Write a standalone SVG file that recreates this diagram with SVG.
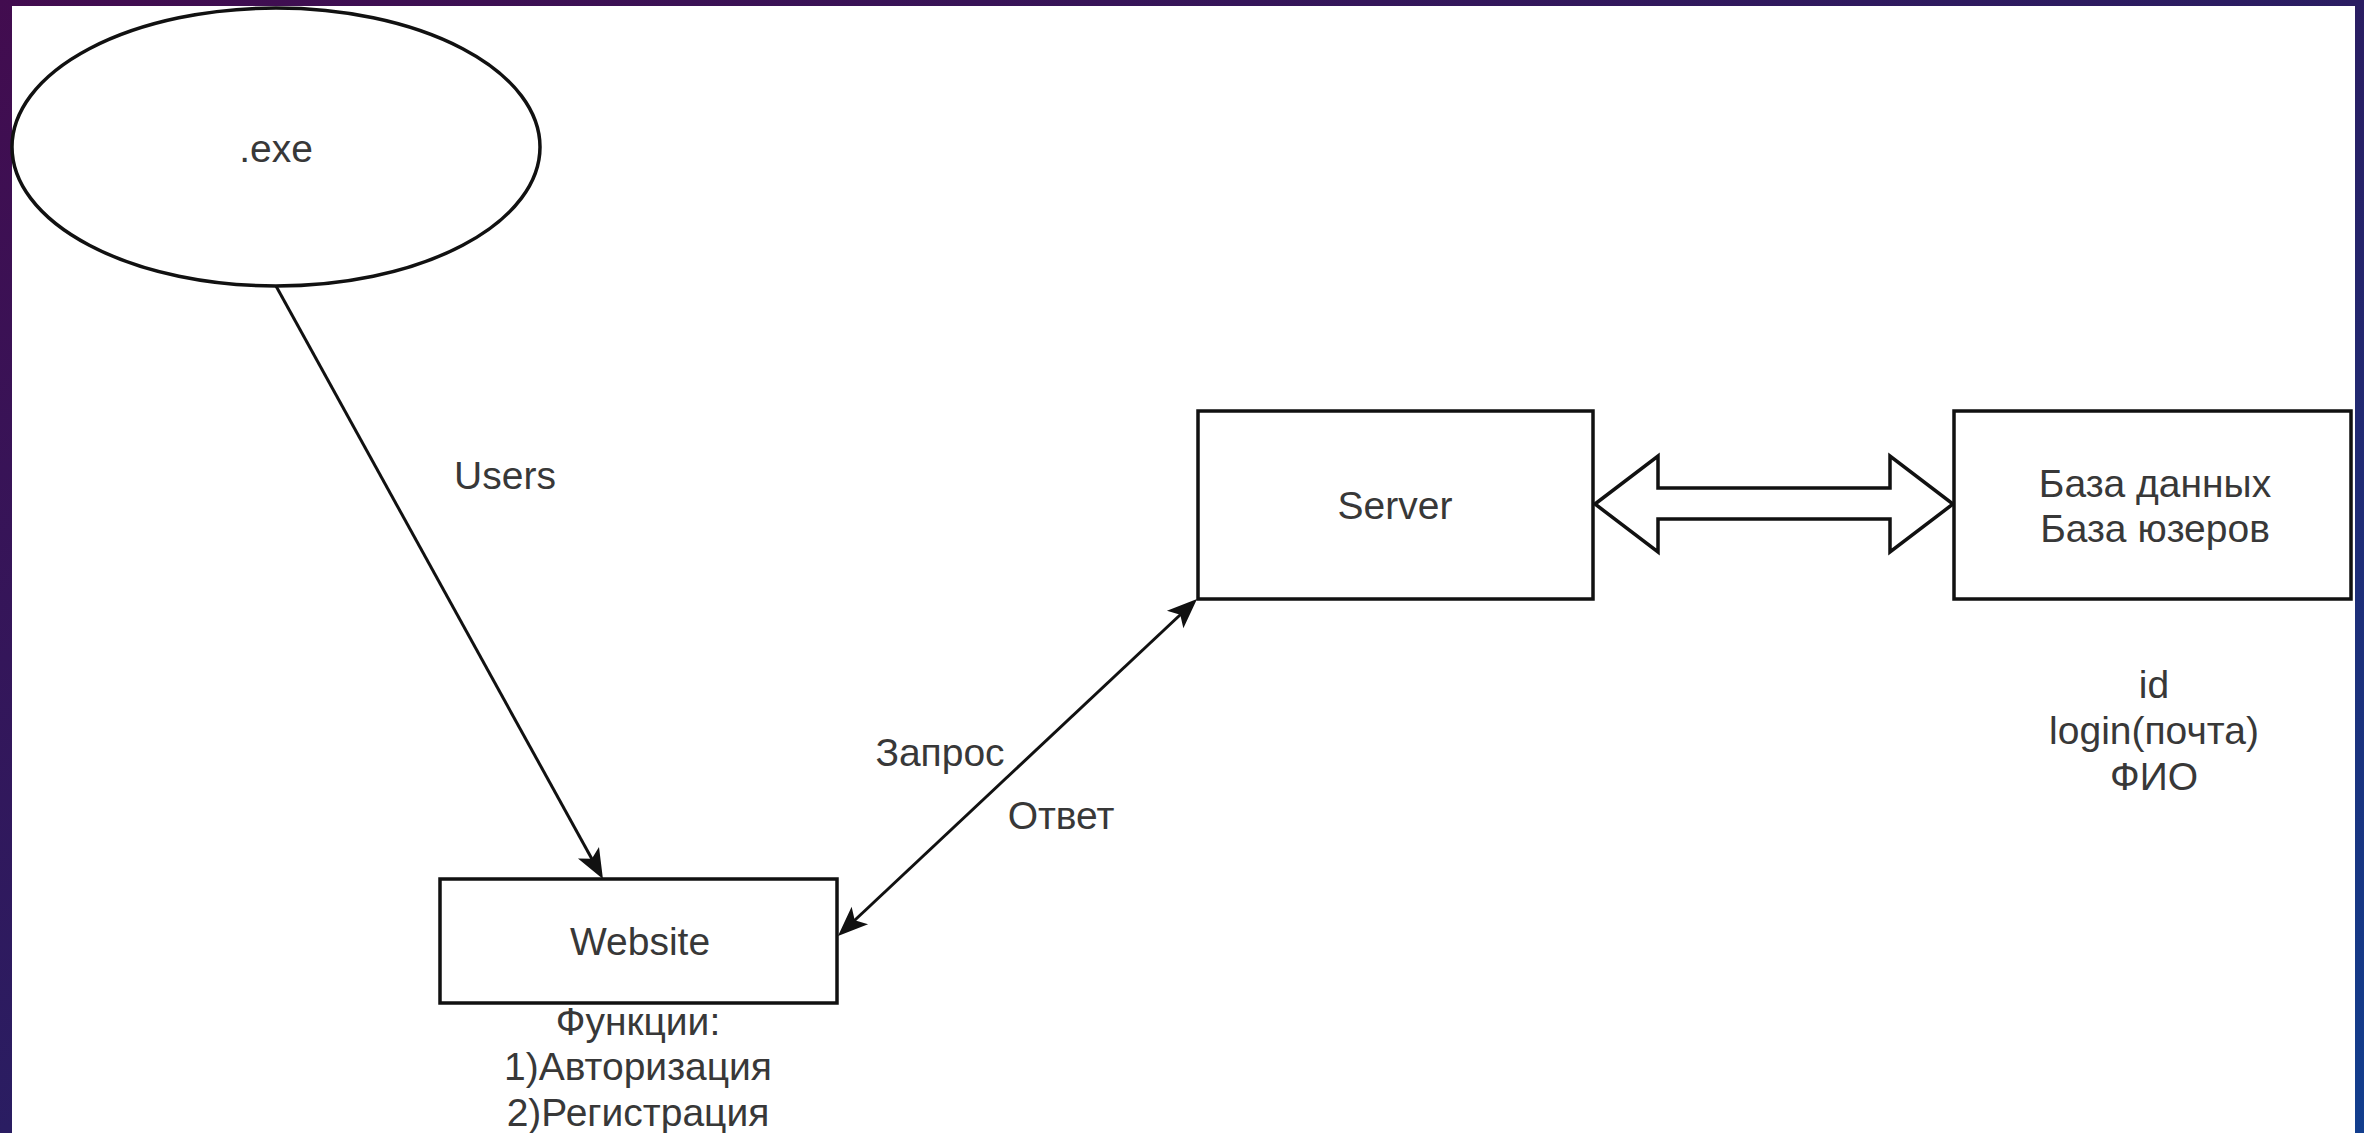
<svg xmlns="http://www.w3.org/2000/svg" width="2364" height="1133" viewBox="0 0 2364 1133">
  <defs>
    <linearGradient id="bg" x1="0" y1="0" x2="1" y2="1">
      <stop offset="0" stop-color="#420c4f"/>
      <stop offset="0.5" stop-color="#2a1d62"/>
      <stop offset="1" stop-color="#123e8e"/>
    </linearGradient>
    <marker id="arr" viewBox="-24 -13 34 26" refX="0" refY="0" markerWidth="34" markerHeight="26" markerUnits="userSpaceOnUse" orient="auto-start-reverse">
      <path d="M 8 0 L -22 -12 L -15 0 L -22 12 Z" fill="#111"/>
    </marker>
    <style>
      .box { fill: #fff; stroke: #111; stroke-width: 3.5; }
      .lbl { font-family: "Liberation Sans", Arial, sans-serif; font-size: 39px; fill: #383838; text-anchor: middle; }
      .conn { stroke: #111; stroke-width: 3; fill: none; }
    </style>
  </defs>

  <rect x="0" y="0" width="2364" height="1133" fill="url(#bg)"/>
  <rect x="12" y="6" width="2343" height="1127" fill="#ffffff"/>

  <g id="connectors">
    <line class="conn" x1="276" y1="286" x2="599.1" y2="872" marker-end="url(#arr)"/>
    <line class="conn" x1="843.8" y1="930.5" x2="1191.2" y2="604.5" marker-start="url(#arr)" marker-end="url(#arr)"/>
    <polygon points="1595,504 1658,456 1658,488 1890,488 1890,456 1953,504 1890,552 1890,519 1658,519 1658,552" fill="#fff" stroke="#111" stroke-width="3.5" stroke-linejoin="miter"/>
    <text class="lbl" x="505" y="489">Users</text>
    <text class="lbl" x="940" y="766">Запрос</text>
    <text class="lbl" x="1061" y="829">Ответ</text>
  </g>

  <g id="exe">
    <ellipse cx="276" cy="147" rx="264" ry="139" fill="#fff" stroke="#111" stroke-width="3.5"/>
    <text class="lbl" x="276" y="162">.exe</text>
  </g>

  <g id="website">
    <rect class="box" x="440" y="879" width="397" height="124"/>
    <text class="lbl" x="640" y="955">Website</text>
    <text class="lbl" x="638" y="1035">Функции:</text>
    <text class="lbl" x="638" y="1080">1)Авторизация</text>
    <text class="lbl" x="638" y="1126">2)Регистрация</text>
  </g>

  <g id="server">
    <rect class="box" x="1198" y="411" width="395" height="188"/>
    <text class="lbl" x="1395" y="519">Server</text>
  </g>

  <g id="database">
    <rect class="box" x="1954" y="411" width="397" height="188"/>
    <text class="lbl" x="2155" y="497">База данных</text>
    <text class="lbl" x="2155" y="542">База юзеров</text>
  </g>

  <g id="fields">
    <text class="lbl" x="2154" y="698">id</text>
    <text class="lbl" x="2154" y="744">login(почта)</text>
    <text class="lbl" x="2154" y="790">ФИО</text>
  </g>
</svg>
